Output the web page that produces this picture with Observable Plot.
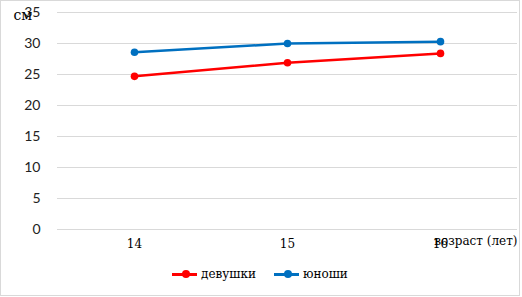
<!DOCTYPE html>
<html><head><meta charset="utf-8">
<script src="https://cdn.jsdelivr.net/npm/d3@7"></script>
<script src="https://cdn.jsdelivr.net/npm/@observablehq/plot@0.6"></script>
<style>
body{margin:0;background:#fff;}
#wrap{position:relative;width:520px;height:296px;border:1px solid #d9d9d9;box-sizing:border-box;background:#fff;overflow:hidden;}
#legend{position:absolute;left:0;top:262px;width:100%;height:24px;font-family:'DejaVu Serif',serif;font-size:12px;color:#000;}
.item{position:absolute;top:4px;display:flex;align-items:center;}
.sw{position:relative;width:25px;height:3px;margin-right:4px;}
.sw span{position:absolute;width:8px;height:8px;border-radius:50%;top:-2.5px;left:10px;}
</style></head>
<body><div id="wrap"><div id="chart"></div><div id="legend"></div></div>
<script>
const ages = ["14", "15", "16"];
const girls = [24.7, 26.9, 28.4];
const boys = [28.6, 30.0, 30.3];
const seriesNames = ["девушки", "юноши"];
const seriesColors = ["#ff0000", "#0070c0"];
const yTicks = [0, 5, 10, 15, 20, 25, 30, 35];

const data = [];
ages.forEach((a, i) => {
  data.push({age: a, value: girls[i], series: seriesNames[0]});
  data.push({age: a, value: boys[i], series: seriesNames[1]});
});

const SERIF = "DejaVu Serif, serif";

const chart = Plot.plot({
  width: 518, height: 258,
  marginLeft: 56, marginRight: 2, marginTop: 11, marginBottom: 30,
  style: {background: "#fff", overflow: "visible"},
  x: {type: "point", domain: ages, padding: 0.5},
  y: {domain: [0, 35]},
  color: {domain: seriesNames, range: seriesColors},
  marks: [
    Plot.gridY(yTicks, {stroke: "#d9d9d9", strokeOpacity: 1, strokeWidth: 1}),
    Plot.axisY(yTicks, {tickSize: 0, tickPadding: 17, label: null, fontSize: 14, fontFamily: "Lato, sans-serif", fill: "#222"}),
    Plot.axisX({tickSize: 0, tickPadding: 10, label: null, fontSize: 12, fontFamily: SERIF, fill: "#000"}),
    Plot.line(data, {x: "age", y: "value", z: "series", stroke: "series", strokeWidth: 2.5}),
    Plot.dot(data, {x: "age", y: "value", fill: "series", r: 3.8}),
    Plot.text(["см"], {frameAnchor: "top-left", textAnchor: "start", lineAnchor: "middle", dx: -44, dy: 3, fontSize: 14, fontFamily: SERIF, fill: "#000"}),
    Plot.text(["возраст (лет)"], {frameAnchor: "bottom-right", textAnchor: "end", lineAnchor: "middle", dx: 0, dy: 12, fontSize: 12, fontFamily: SERIF, fill: "#000"})
  ]
});
document.getElementById("chart").appendChild(chart);

const legend = document.getElementById("legend");
const lefts = [171, 273];
seriesNames.forEach((n, i) => {
  const it = document.createElement("div");
  it.className = "item";
  it.style.left = lefts[i] + "px";
  it.innerHTML = `<div class="sw" style="background:${seriesColors[i]}"><span style="background:${seriesColors[i]}"></span></div><div>${n}</div>`;
  legend.appendChild(it);
});
</script></body></html>
